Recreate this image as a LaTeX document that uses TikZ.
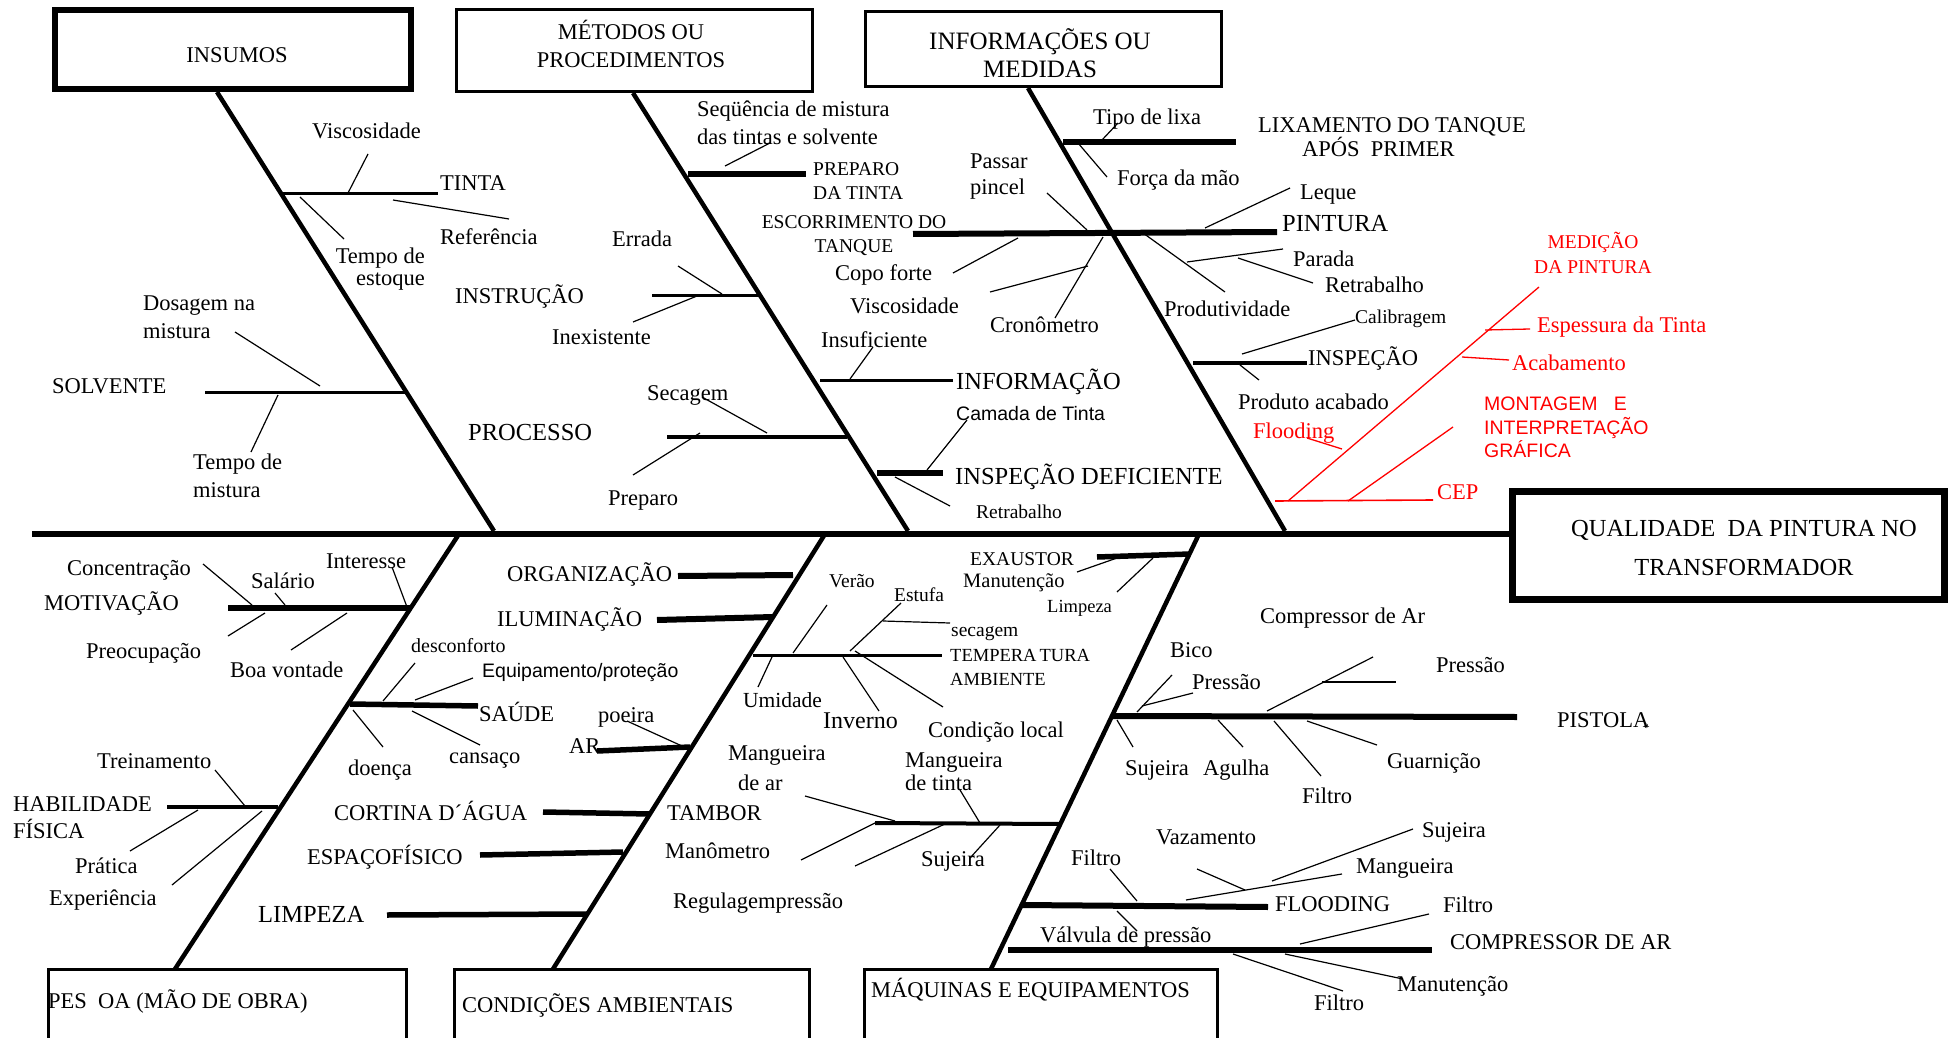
\documentclass[tikz,border=0pt]{standalone}
\usepackage{fontspec}
\setmainfont{Liberation Serif}
\newfontfamily\arialfont{Liberation Sans}
\definecolor{causered}{RGB}{255,0,0}
\newcommand\fz[2]{\fontsize{#1}{#2}\selectfont}
% straight segment between two named coordinates
\newcommand\fishseg[4][tw]{\coordinate (#2-a) at (#3);\coordinate (#2-b) at (#4);\draw[#1] (#2-a) -- (#2-b);}
\tikzset{
  spine/.style={line width=6pt},
  bone/.style={line width=4.5pt},
  brk/.style={line width=5.5pt},
  brm/.style={line width=3pt},
  tw/.style={line width=1.2pt},
  rtw/.style={line width=1.3pt, draw=causered},
  lab/.style={inner sep=0pt, font=\fz{22.5}{28}},
  labL/.style={lab, anchor=mid west, yshift=-3pt},
  big/.style={font=\fz{24.5}{30}},
  sml/.style={font=\fz{19.5}{24}},
  sans/.style={font=\arialfont\fz{19.5}{23.5}},
  redtext/.style={text=causered},
  box/.style={draw, inner sep=0pt},
}
\begin{document}
\begin{tikzpicture}[x=1pt,y=-1pt]
\useasboundingbox (0,0) rectangle (1952,1038);

% ---------- category boxes ----------
\node[box, line width=6pt, minimum width=356pt, minimum height=79pt] (insumos) at (233,49.5) {};
\node[lab, anchor=mid, yshift=-3pt] (tInsumos) at (237,57) {INSUMOS};
\node[box, line width=3pt, minimum width=356pt, minimum height=82pt] (metodos) at (634,51) {};
\node[lab, align=center, anchor=north] (tMetodos) at (631,20) {MÉTODOS OU\\PROCEDIMENTOS};
\node[box, line width=3pt, minimum width=356pt, minimum height=75pt] (informacoes) at (1043,49.5) {};
\node[lab, align=center, anchor=north, font=\fz{25}{28}] (tInformacoes) at (1040,28) {INFORMAÇÕES OU\\MEDIDAS};
\node[box, line width=7pt, minimum width=432pt, minimum height=108pt] (qualidade) at (1728.5,545.5) {};
\node[lab, align=center, anchor=north, font=\fz{24.5}{39}] (tQualidade) at (1744,520.5) {QUALIDADE\ \ DA PINTURA NO\\TRANSFORMADOR};
\node[box, line width=3pt, minimum width=358pt, minimum height=76pt] (pessoa) at (227,1007) {};
\node[labL] (tPessoa) at (48,1003) {PES\ \ OA (MÃO DE OBRA)};
\node[box, line width=3pt, minimum width=355pt, minimum height=76pt] (condicoes) at (631.5,1007) {};
\node[labL] (tCondicoes) at (462,1007) {CONDIÇÕES AMBIENTAIS};
\node[box, line width=3pt, minimum width=353pt, minimum height=76pt] (maquinas) at (1040.5,1007) {};
\node[labL] (tMaquinas) at (871,992) {MÁQUINAS E EQUIPAMENTOS};

% ---------- spine and main bones ----------
\coordinate (tail) at (32,534);
\draw[spine] (tail) -- (tail -| qualidade.west);
\fishseg[bone]{b1}{217,92}{494,531}
\fishseg[bone]{b2}{633,93}{908,531}
\fishseg[bone]{b3}{1028,88}{1285,531}
\fishseg[bone]{b4}{459,534}{175,969}
\fishseg[bone]{b5}{825,534}{553,969}
\fishseg[bone]{b6}{1199,534}{991,969}

% ---------- INSUMOS ----------
\fishseg[brm]{tinta}{282,193}{438,193}
\node[labL] (lTinta) at (440,185) {TINTA};
\fishseg{t1}{348,193}{368,154}
\node[labL] (lVisc1) at (312,133) {Viscosidade};
\fishseg{t2}{300,197}{344,239}
\node[lab, align=right, anchor=north east, font=\fz{22.5}{22}] (lTempoEst) at (425,248) {Tempo de\\estoque};
\fishseg{t3}{393,200}{509,219}
\node[labL] (lRef) at (440,239) {Referência};
\fishseg[brm]{solv}{205,392}{405,392}
\node[labL] (lSolv) at (52,388) {SOLVENTE};
\fishseg{t4}{235,332}{320,386}
\node[lab, align=left, anchor=north west] (lDosagem) at (143,296) {Dosagem na\\mistura};
\fishseg{t5}{278,395}{251,452}
\node[lab, align=left, anchor=north west] (lTempoMist) at (193,454) {Tempo de\\mistura};
\node[labL, big] (lProcesso) at (468,435) {PROCESSO};

% ---------- MÉTODOS OU PROCEDIMENTOS ----------
\fishseg[brk]{prep}{688,174}{806,174}
\node[lab, sml, align=left, anchor=north west] (lPreparoTinta) at (813,162) {PREPARO\\DA TINTA};
\fishseg{t6}{725,166}{770,143}
\node[lab, align=left, anchor=north west] (lSeq) at (697,101) {Seqüência de mistura\\das tintas e solvente};
\fishseg[brm]{instr}{652,295}{760,295}
\node[labL] (lInstr) at (455,298) {INSTRUÇÃO};
\fishseg{t7}{678,266}{722,294}
\node[labL] (lErrada) at (612,241) {Errada};
\fishseg{t8}{633,322}{697,296}
\node[labL] (lInex) at (552,339) {Inexistente};
\fishseg[line width=4pt]{proc}{667,437}{847,437}
\fishseg{t9}{702,397}{767,433}
\node[labL] (lSecagem) at (647,395) {Secagem};
\fishseg{t10}{633,475}{700,433}
\node[labL] (lPreparo) at (608,500) {Preparo};
\fishseg[brm]{info}{820,380}{953,380}
\node[labL, big] (lInfo) at (956,384) {INFORMAÇÃO};
\fishseg{t11}{850,379}{873,347}
\node[labL] (lInsuf) at (821,342) {Insuficiente};
\fishseg[line width=6pt]{insp}{877,473}{943,473}
\node[labL, big] (lInspDef) at (955,479) {INSPEÇÃO DEFICIENTE};
\fishseg{t12}{927,470}{967,420}
\node[labL, sans] (lCamada) at (956,415) {Camada de Tinta};
\fishseg{t13}{895,477}{950,506}
\node[labL, sml] (lRetrab1) at (976,513) {Retrabalho};

% ---------- INFORMAÇÕES OU MEDIDAS ----------
\fishseg[brk]{lix}{1063,142}{1236,142}
\node[lab, align=left, anchor=north west, font=\fz{22.5}{21}] (lLix) at (1258,117) {LIXAMENTO DO TANQUE\\\hspace*{44pt}APÓS\ \ PRIMER};
\fishseg{t14}{1102,140}{1118,123}
\node[labL] (lLixa) at (1093,119) {Tipo de lixa};
\fishseg{t15}{1078,143}{1107,177}
\node[labL] (lForca) at (1117,180) {Força da mão};
\fishseg[line width=6pt]{pint}{913,234}{1277,232}
\node[labL, big] (lPintura) at (1282,226) {PINTURA};
\node[lab, sml, align=center, anchor=north] (lEscorr) at (854,215.5) {ESCORRIMENTO DO\\TANQUE};
\fishseg{t16}{1047,193}{1087,230}
\node[lab, align=left, anchor=north west, font=\fz{22.5}{26}] (lPassar) at (970,154) {Passar\\pincel};
\fishseg{t17}{1205,228}{1290,188}
\node[labL] (lLeque) at (1300,194) {Leque};
\fishseg{t18}{953,273}{1018,238}
\node[labL] (lCopo) at (835,275) {Copo forte};
\fishseg{t19}{990,292}{1088,266}
\node[labL] (lVisc2) at (850,308) {Viscosidade};
\fishseg{t20}{1055,318}{1103,237}
\node[labL] (lCrono) at (990,327) {Cronômetro};
\fishseg{t21}{1143,233}{1225,292}
\node[labL] (lProdut) at (1164,311) {Produtividade};
\fishseg{t22}{1187,262}{1283,249}
\node[labL] (lParada) at (1293,261) {Parada};
\fishseg{t23}{1238,258}{1313,283}
\node[labL] (lRetrab2) at (1325,287) {Retrabalho};
\fishseg[line width=4pt]{inspe}{1193,363}{1307,363}
\node[labL] (lInspecao) at (1308,360) {INSPEÇÃO};
\fishseg{t24}{1242,354}{1355,320}
\node[labL, sml] (lCalib) at (1355,318) {Calibragem};
\fishseg{t25}{1240,365}{1259,380}
\node[labL] (lProduto) at (1238,404) {Produto acabado};

% ---------- MEDIÇÃO DA PINTURA (red) ----------
\fishseg[rtw, line width=1.6pt]{cep}{1275,501}{1433,500}
\node[labL, redtext] (lCep) at (1437,494) {CEP};
\fishseg[rtw]{r1}{1288,501}{1539,287}
\node[lab, sml, redtext, align=center, anchor=north, font=\fz{19.5}{25}] (lMedicao) at (1593,232) {MEDIÇÃO\\DA PINTURA};
\fishseg[rtw]{r2}{1348,501}{1453,427}
\node[lab, sans, redtext, align=left, anchor=north west] (lMontagem) at (1484,397) {MONTAGEM\ \ \ E\\INTERPRETAÇÃO\\GRÁFICA};
\fishseg[rtw]{r3}{1485,330}{1530,329}
\node[labL, redtext] (lEspessura) at (1537,327) {Espessura da Tinta};
\fishseg[rtw]{r4}{1462,357}{1509,360}
\node[labL, redtext] (lAcab) at (1512,365) {Acabamento};
\fishseg[rtw]{r5}{1307,438}{1342,449}
\node[labL, redtext] (lFlood) at (1253,433) {Flooding};

% ---------- PESSOA (MÃO DE OBRA) ----------
\fishseg[brk]{motiv}{228,608}{410,608}
\node[labL] (lMotiv) at (44,605) {MOTIVAÇÃO};
\fishseg{t26}{203,564}{252,605}
\node[labL] (lConc) at (67,570) {Concentração};
\fishseg{t27}{275,593}{285,605}
\node[labL] (lSalario) at (251,583) {Salário};
\fishseg{t28}{392,567}{407,607}
\node[labL] (lInteresse) at (326,563) {Interesse};
\fishseg{t29}{228,636}{265,613}
\node[labL] (lPreoc) at (86,653) {Preocupação};
\fishseg{t30}{291,650}{347,613}
\node[labL] (lBoa) at (230,672) {Boa vontade};
\fishseg[brk]{saude}{350,704}{478,706}
\node[labL] (lSaude) at (479,716) {SAÚDE};
\fishseg{t31}{415,663}{383,701}
\node[labL, font=\fz{20}{24}] (lDesc) at (411,647) {desconforto};
\fishseg{t32}{473,678}{415,700}
\node[labL, sans] (lEquip) at (482,672) {Equipamento/proteção};
\fishseg{t33}{353,710}{383,747}
\node[labL] (lDoenca) at (348,770) {doença};
\fishseg{t34}{412,711}{480,745}
\node[labL] (lCansaco) at (449,758) {cansaço};
\fishseg[line width=4pt]{habil}{167,807}{278,807}
\node[lab, align=left, anchor=north west, font=\fz{22.5}{27}] (lHabil) at (13,796) {HABILIDADE\\FÍSICA};
\fishseg{t35}{215,770}{245,806}
\node[labL] (lTrein) at (97,763) {Treinamento};
\fishseg{t36}{130,851}{198,810}
\node[labL] (lPratica) at (75,868) {Prática};
\fishseg{t37}{172,885}{262,811}
\node[labL] (lExper) at (49,900) {Experiência};

% ---------- CONDIÇÕES AMBIENTAIS ----------
\fishseg[line width=6pt]{organ}{678,576}{793,575}
\node[labL] (lOrgan) at (507,576) {ORGANIZAÇÃO};
\fishseg[line width=6pt]{ilum}{657,620}{773,617}
\node[labL] (lIlum) at (497,621) {ILUMINAÇÃO};
\fishseg[brk]{ar}{597,751}{690,747}
\node[labL] (lAr) at (569,748) {AR};
\fishseg{t38}{627,721}{682,746}
\node[labL] (lPoeira) at (598,717) {poeira};
\fishseg[brk]{cort}{543,812}{650,814}
\node[labL] (lCortina) at (334,815) {CORTINA D´ÁGUA};
\fishseg[brk]{espaco}{480,855}{623,852}
\node[labL] (lEspaco) at (307,859) {ESPAÇOFÍSICO};
\fishseg[brk]{limp}{387,915}{587,914}
\node[labL, big] (lLimpeza) at (258,917) {LIMPEZA};
\node[labL] (lTambor) at (667,815) {TAMBOR};
\fishseg[brm]{temp}{753,655}{942,655}
\node[lab, align=left, anchor=north west, font=\fz{18.5}{24}] (lTemp) at (950,649) {TEMPERA\,TURA\\AMBIENTE};
\fishseg{t39}{827,605}{793,653}
\node[labL, sml] (lVerao) at (829,582) {Verão};
\fishseg{t40}{901,603}{850,651}
\node[labL, sml] (lEstufa) at (894,596) {Estufa};
\fishseg{t41}{883,621}{950,623}
\node[labL, sml] (lSecagem2) at (951,631) {secagem};
\fishseg{t42}{772,657}{758,687}
\node[labL, font=\fz{21.5}{26}] (lUmidade) at (743,702) {Umidade};
\fishseg{t43}{843,657}{879,711}
\node[labL, font=\fz{24}{28}] (lInverno) at (823,723) {Inverno};
\fishseg{t44}{855,651}{943,707}
\node[labL] (lCondLocal) at (928,732) {Condição local};
\fishseg[line width=4pt]{mang}{875,823}{1060,824}
\fishseg{t45}{805,796}{895,821}
\node[lab, align=left, anchor=north west, font=\fz{22.5}{30}] (lMangAr) at (728,745) {Mangueira\\\hspace*{10pt}de ar};
\fishseg{t46}{960,790}{980,823}
\node[lab, align=left, anchor=north west, font=\fz{22.5}{23}] (lMangTinta) at (905,752) {Mangueira\\de tinta};
\fishseg{t47}{801,860}{875,823}
\node[labL] (lManom) at (665,853) {Manômetro};
\fishseg{t48}{855,866}{947,823}
\node[labL] (lRegul) at (673,903) {Regulagempressão};
\fishseg{t49}{1000,825}{970,858}
\node[labL] (lSujeira1) at (921,861) {Sujeira};

% ---------- MÁQUINAS E EQUIPAMENTOS ----------
\fishseg[brk]{exaust}{1097,557}{1190,554}
\node[labL, sml] (lExaustor) at (970,560) {EXAUSTOR};
\fishseg{t50}{1077,572}{1117,558}
\node[labL, font=\fz{20.5}{24}] (lManut1) at (963,582) {Manutenção};
\fishseg{t51}{1117,592}{1153,558}
\node[labL, font=\fz{18.5}{24}] (lLimpeza2) at (1047,607) {Limpeza};
\fishseg[line width=6pt]{pist}{1113,716}{1517,717}
\node[labL] (lPistola) at (1557,722) {PISTOLA\kern-5pt\raisebox{-1pt}{\fz{9}{9}e}};
\fishseg{t52}{1172,675}{1137,712}
\node[labL] (lBico) at (1170,652) {Bico};
\fishseg{t53}{1193,693}{1142,706}
\node[labL] (lPressao1) at (1192,684) {Pressão};
\fishseg{t54}{1267,711}{1373,657}
\node[labL] (lCompAr) at (1260,618) {Compressor de Ar};
\fishseg{t55}{1322,682}{1396,682}
\node[labL] (lPressao2) at (1436,667) {Pressão};
\fishseg{t56}{1117,720}{1133,747}
\node[labL] (lSujeira2) at (1125,770) {Sujeira};
\fishseg{t57}{1218,720}{1243,747}
\node[labL] (lAgulha) at (1203,770) {Agulha};
\fishseg{t58}{1274,721}{1321,776}
\node[labL] (lFiltro1) at (1302,798) {Filtro};
\fishseg{t59}{1307,721}{1377,745}
\node[labL] (lGuarn) at (1387,763) {Guarnição};
\fishseg[line width=6pt]{flood}{1022,905}{1268,907}
\node[labL] (lFlooding) at (1275,906) {FLOODING};
\fishseg{t60}{1110,869}{1137,901}
\node[labL] (lFiltro2) at (1071,860) {Filtro};
\fishseg{t61}{1197,869}{1245,890}
\node[labL] (lVaz) at (1156,839) {Vazamento};
\fishseg{t62}{1186,900}{1342,874}
\node[labL] (lMang) at (1356,868) {Mangueira};
\fishseg{t63}{1272,881}{1413,829}
\node[labL] (lSujeira3) at (1422,832) {Sujeira};
\fishseg[line width=6pt]{comp}{1008,950}{1432,950}
\node[labL] (lCompressor) at (1450,944) {COMPRESSOR DE AR};
\fishseg{t64}{1117,911}{1137,931}
\node[labL] (lValvula) at (1040,937) {Válvula de pressão};
\fishseg{t65}{1300,944}{1429,914}
\node[labL] (lFiltro3) at (1443,907) {Filtro};
\fishseg{t66}{1285,954}{1403,979}
\node[labL] (lManut2) at (1397,986) {Manutenção};
\fishseg{t67}{1233,954}{1343,991}
\node[labL] (lFiltro4) at (1314,1005) {Filtro};
\end{tikzpicture}
\end{document}
